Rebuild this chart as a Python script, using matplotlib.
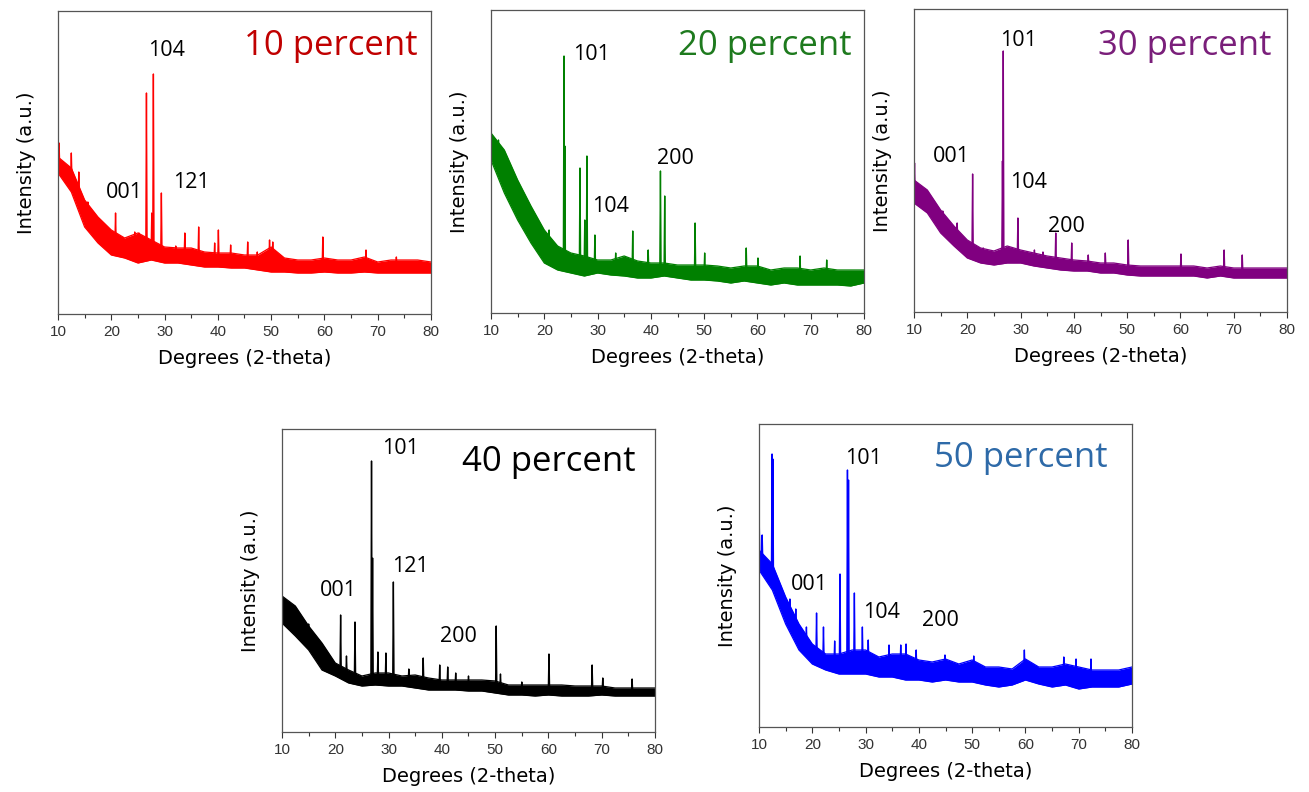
import numpy as np
import matplotlib.pyplot as plt

# 2-theta grid for the background band (degrees)
two_theta = np.arange(10, 80.1, 2.5)

# ---- 10 percent ----
p10_upper = [157, 146, 114, 97, 84, 76, 81, 74, 67, 66, 66, 62, 61, 61, 59,
             59, 67, 56, 54, 54, 56, 54, 54, 57, 52, 54, 54, 54, 52]
p10_lower = [141, 122, 87, 71, 59, 56, 51, 54, 51, 51, 49, 47, 47, 46, 46,
             44, 42, 42, 41, 41, 42, 41, 41, 42, 41, 41, 41, 41, 41]
p10_peak_pos = [10.2, 11.0, 12.5, 13.9, 15.6, 17.4, 18.9, 20.8, 23.1, 24.4,
                25.2, 26.6, 27.6, 27.9, 29.4, 32.1, 33.8, 36.4, 39.4, 40.1,
                42.4, 45.6, 47.4, 49.7, 50.3, 59.7, 67.8, 73.5]
p10_peak_int = [171, 150, 161, 142, 112, 90, 80, 101, 76, 82,
                81, 221, 101, 240, 121, 68, 81, 87, 71, 84,
                69, 72, 62, 74, 72, 77, 64, 57]

# ---- 20 percent ----
p20_upper = [180, 163, 133, 107, 83, 67, 60, 57, 53, 53, 57, 52, 50, 50, 48,
             48, 48, 47, 45, 47, 47, 43, 45, 45, 43, 45, 43, 43, 43]
p20_lower = [153, 120, 93, 70, 50, 43, 40, 37, 40, 38, 37, 35, 35, 37, 35,
             33, 33, 32, 30, 32, 30, 28, 30, 28, 28, 28, 28, 27, 30]
p20_peak_pos = [11.4, 13.0, 14.9, 16.8, 18.6, 20.9, 23.7, 23.85, 26.7, 27.6,
                28.0, 29.5, 33.4, 36.6, 39.5, 41.8, 42.6, 48.3, 50.1, 57.9,
                60.1, 68.0, 73.0]
p20_peak_int = [173, 147, 122, 95, 80, 83, 257, 167, 145, 93,
                157, 78, 60, 82, 63, 142, 117, 90, 60, 65,
                55, 57, 53]

# ---- 30 percent ----
p30_upper = [132, 122, 102, 86, 72, 64, 61, 66, 62, 59, 56, 54, 52, 51, 49,
             49, 47, 46, 46, 46, 46, 46, 44, 46, 44, 44, 44, 44, 44]
p30_lower = [109, 99, 79, 66, 54, 49, 47, 49, 49, 46, 44, 42, 41, 41, 39,
             39, 37, 36, 36, 36, 36, 36, 34, 36, 34, 34, 34, 34, 34]
p30_peak_pos = [10.1, 12.0, 15.4, 18.1, 21.0, 23.0, 26.6, 26.75, 29.5, 32.6,
                34.2, 36.6, 39.6, 42.7, 45.9, 50.2, 60.1, 68.2, 71.6]
p30_peak_int = [149, 115, 101, 89, 138, 64, 151, 261, 94, 62,
                60, 79, 69, 57, 59, 72, 58, 62, 57]

# ---- 40 percent ----
p40_upper = [136, 126, 106, 89, 69, 62, 56, 59, 59, 56, 57, 54, 52, 52, 52,
             52, 51, 47, 47, 47, 47, 47, 46, 46, 46, 44, 44, 44, 44]
p40_lower = [109, 96, 82, 62, 56, 49, 46, 47, 46, 46, 44, 42, 42, 42, 41,
             41, 39, 37, 37, 36, 37, 36, 36, 36, 37, 36, 36, 36, 36]
p40_peak_pos = [10.0, 12.5, 15.0, 17.2, 18.3, 21.0, 22.1, 23.7, 26.8, 27.0,
                28.0, 29.5, 30.9, 33.8, 36.5, 39.6, 41.1, 42.6, 45.0, 50.2,
                51.0, 55.0, 60.1, 68.2, 70.2, 75.7]
p40_peak_int = [139, 125, 108, 88, 81, 117, 76, 110, 271, 174,
                80, 79, 150, 63, 74, 67, 65, 59, 56, 106,
                58, 50, 78, 67, 54, 53]

# ---- 50 percent ----
p50_upper = [177, 163, 130, 103, 83, 73, 73, 77, 77, 70, 73, 73, 67, 65, 68,
             63, 67, 60, 60, 58, 68, 60, 60, 63, 60, 57, 57, 57, 60]
p50_lower = [157, 137, 103, 77, 63, 57, 53, 53, 53, 50, 50, 47, 47, 45, 47,
             45, 45, 42, 40, 42, 47, 43, 40, 42, 38, 40, 40, 40, 43]
p50_peak_pos = [10.05, 10.6, 12.45, 12.6, 15.8, 16.9, 18.9, 20.8, 22.1, 24.2,
                25.2, 26.6, 26.8, 27.9, 29.4, 30.5, 34.4, 36.6, 37.6, 39.5,
                44.9, 50.3, 59.8, 67.2, 69.5, 72.3]
p50_peak_int = [202, 192, 273, 268, 128, 118, 100, 114, 100, 86,
                153, 257, 247, 134, 100, 87, 82, 82, 83, 77,
                72, 71, 77, 70, 68, 68]

# reflection labels per panel
p10_hkl = ['104', '001', '121']
p20_hkl = ['101', '104', '200']
p30_hkl = ['101', '001', '104', '200']
p40_hkl = ['101', '121', '001', '200']
p50_hkl = ['101', '001', '104', '200']

panels = [
    dict(upper=p10_upper, lower=p10_lower, pos=p10_peak_pos, inten=p10_peak_int,
         color='#ff0000', title='10 percent', tcolor='#c00000', hkl=p10_hkl,
         hkl_xy=[(30.3, 264), (22.5, 121), (35.0, 132)], tx=(77.5, 259),
         rect=[58, 314]),
    dict(upper=p20_upper, lower=p20_lower, pos=p20_peak_pos, inten=p20_peak_int,
         color='#008000', title='20 percent', tcolor='#1e7a1e', hkl=p20_hkl,
         hkl_xy=[(28.9, 258), (32.4, 107), (44.6, 154)], tx=(77.7, 258),
         rect=[491, 313]),
    dict(upper=p30_upper, lower=p30_lower, pos=p30_peak_pos, inten=p30_peak_int,
         color='#800080', title='30 percent', tcolor='#7a1f7a', hkl=p30_hkl,
         hkl_xy=[(29.7, 271), (17.1, 156), (31.4, 129), (38.6, 86)], tx=(77.0, 257),
         rect=[914, 312]),
    dict(upper=p40_upper, lower=p40_lower, pos=p40_peak_pos, inten=p40_peak_int,
         color='#000000', title='40 percent', tcolor='#000000', hkl=p40_hkl,
         hkl_xy=[(32.2, 283), (34.1, 165), (20.6, 141), (43.2, 95)], tx=(76.4, 261),
         rect=[282, 732]),
    dict(upper=p50_upper, lower=p50_lower, pos=p50_peak_pos, inten=p50_peak_int,
         color='#0000ff', title='50 percent', tcolor='#2e6aa8', hkl=p50_hkl,
         hkl_xy=[(29.6, 268), (19.5, 142), (33.0, 115), (44.1, 107)], tx=(75.4, 260),
         rect=[759, 727]),
]

W, H = 1309, 792
fig = plt.figure(figsize=(W / 100, H / 100), dpi=100)

for p in panels:
    left, bottom = p['rect']
    ax = fig.add_axes([left / W, (H - bottom) / H, 373 / W, 303 / H])

    up = np.array(p['upper'], float)
    lo = np.array(p['lower'], float)
    ax.fill_between(two_theta, lo, up, color=p['color'], lw=0)
    ax.plot(two_theta, up, color=p['color'], lw=0.9)
    ax.plot(two_theta, lo, color=p['color'], lw=0.9)

    # sharp reflections rising out of the background
    mid = (up + lo) / 2
    for x, h in zip(p['pos'], p['inten']):
        b = np.interp(x, two_theta, mid)
        ax.plot([x - 0.12, x, x + 0.12], [b, h, b], color=p['color'], lw=1.0)

    for lab, (x, y) in zip(p['hkl'], p['hkl_xy']):
        ax.text(x, y, lab, ha='center', va='center', fontsize=15.5,
                family='Open Sans', color='black')
    ax.text(p['tx'][0], p['tx'][1], p['title'], ha='right', va='baseline',
            fontsize=25, family='Open Sans', color=p['tcolor'])

    ax.set_xlim(10, 80)
    ax.set_ylim(0, 303)
    ax.set_xticks(range(10, 81, 10))
    ax.set_xticks(range(15, 80, 10), minor=True)
    ax.set_yticks([])
    ax.tick_params(axis='x', which='major', direction='out', length=4,
                   width=0.8, labelsize=11, pad=4, colors='#333333')
    ax.tick_params(axis='x', which='minor', direction='out', length=3, width=0.8,
                   colors='#333333')
    for lbl in ax.get_xticklabels():
        lbl.set_family('Liberation Sans')
    for s in ax.spines.values():
        s.set_color('#555555')
        s.set_linewidth(0.9)
    ax.set_xlabel('Degrees (2-theta)', fontsize=14, family='DejaVu Sans',
                  labelpad=7)
    ax.set_ylabel('Intensity (a.u.)', fontsize=14, family='DejaVu Sans',
                  labelpad=16)

fig.savefig('out.png', dpi=100)
